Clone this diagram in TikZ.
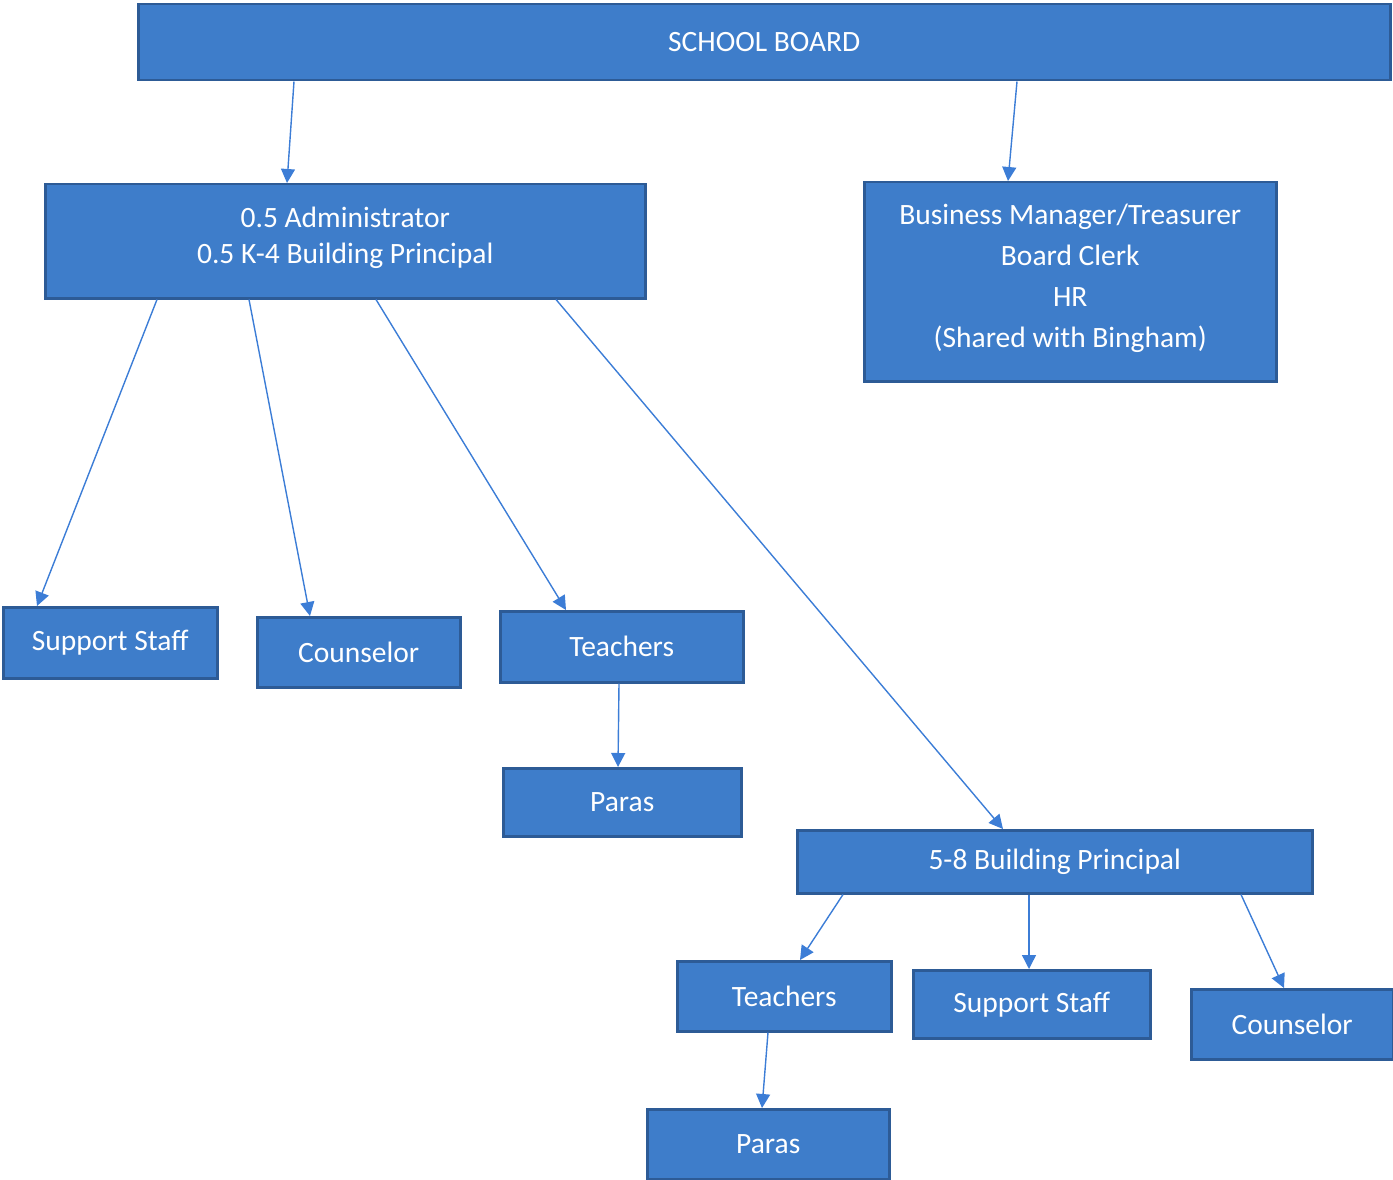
\documentclass[tikz,border=0pt]{standalone}
\usepackage{fontspec}
\setmainfont{Carlito}
\usetikzlibrary{arrows.meta}
\definecolor{boxfill}{HTML}{3E7DCA}
\definecolor{boxline}{HTML}{2D5B96}
\definecolor{arrline}{HTML}{3C7DD6}
\tikzset{
  orgbox/.style={rectangle, anchor=north west, fill=boxfill, draw=boxline, line width=2.5pt,
    text=white, align=center, inner sep=0pt, font=\fontsize{29.5}{41}\selectfont},
  arr/.style={draw=arrline, line width=1.4pt, -{Triangle[width=14pt,length=14pt]}}
}
\begin{document}
\begin{tikzpicture}[x=1pt,y=-1pt]
\useasboundingbox (0,0) rectangle (1393,1180);
\node[orgbox, minimum width=1252pt, minimum height=76pt] (sb) at (137,3) {SCHOOL BOARD};
\node[orgbox, minimum width=600pt, minimum height=114pt, font=\fontsize{29.5}{36}\selectfont] (adm) at (44,183) {0.5 Administrator\\0.5 K-4 Building Principal\\[-24pt]};
\node[orgbox, minimum width=412pt, minimum height=199pt] (bm) at (863,181) {Business Manager/Treasurer\\Board Clerk\\HR\\(Shared with Bingham)\\[-30pt]};
\node[orgbox, minimum width=214pt, minimum height=71pt] (ss1) at (2,606) {Support Staff};
\node[orgbox, minimum width=203pt, minimum height=70pt] (co1) at (256,616) {Counselor};
\node[orgbox, minimum width=243pt, minimum height=71pt] (te1) at (499,610) {Teachers};
\node[orgbox, minimum width=238pt, minimum height=68pt] (pa1) at (502,767) {Paras};
\node[orgbox, minimum width=515pt, minimum height=63pt] (pr58) at (796,829) {5-8 Building Principal};
\node[orgbox, minimum width=214pt, minimum height=70pt] (te2) at (676,960) {Teachers};
\node[orgbox, minimum width=237pt, minimum height=68pt] (ss2) at (912,969) {Support Staff};
\node[orgbox, minimum width=202pt, minimum height=70pt] (co2) at (1190,988) {Counselor};
\node[orgbox, minimum width=242pt, minimum height=70pt] (pa2) at (646,1108) {Paras};

\draw[arr] ([xshift=157pt]sb.south west) -- ([xshift=243pt]adm.north west);
\draw[arr] ([xshift=880pt]sb.south west) -- ([xshift=145pt]bm.north west);
\draw[arr] ([xshift=113pt]adm.south west) -- ([xshift=35pt]ss1.north west);
\draw[arr] ([xshift=205pt]adm.south west) -- ([xshift=54pt]co1.north west);
\draw[arr] ([xshift=332pt]adm.south west) -- ([xshift=67pt]te1.north west);
\draw[arr] ([xshift=512pt]adm.south west) -- ([xshift=207pt]pr58.north west);
\draw[arr] ([xshift=120pt]te1.south west) -- ([xshift=116pt]pa1.north west);
\draw[arr] ([xshift=47pt]pr58.south west) -- ([xshift=124pt]te2.north west);
\draw[arr] ([xshift=233pt]pr58.south west) -- ([xshift=117pt]ss2.north west);
\draw[arr] ([xshift=445pt]pr58.south west) -- ([xshift=94pt]co2.north west);
\draw[arr] ([xshift=92pt]te2.south west) -- ([xshift=116pt]pa2.north west);
\end{tikzpicture}
\end{document}
